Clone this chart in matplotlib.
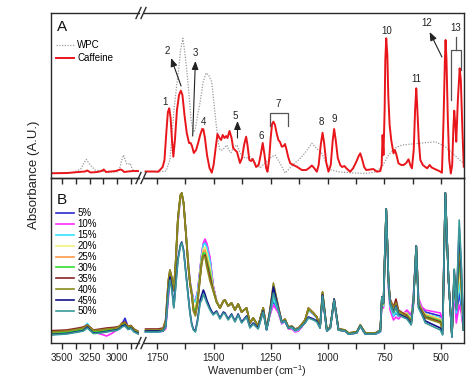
import matplotlib
matplotlib.use('Agg')
import matplotlib.pyplot as plt
from matplotlib.lines import Line2D

plt.rcParams['font.family'] = ['Liberation Sans', 'DejaVu Sans']
plt.rcParams['mathtext.default'] = 'regular'

# ---------------- data (absorbance in arbitrary units) ----------------
# Panel A: caffeine
caf_wn_l = [3600, 3450, 3350, 3290, 3270, 3240, 3180, 3140, 3120, 3100, 3010, 2970, 2955, 2935, 2900, 2850, 2785]
caf_v_l = [4.7, 5, 6, 6.5, 7.5, 5.5, 6, 7, 8.5, 6, 7, 8.5, 8, 6, 6.5, 7, 7]
caf_wn_r = [1800, 1759, 1745, 1737, 1725, 1717, 1708, 1702, 1696, 1690,
            1684, 1678, 1671, 1662, 1653, 1645, 1638, 1629, 1619, 1609,
            1602, 1596, 1588, 1578, 1569, 1560, 1551, 1546, 1539, 1530,
            1519, 1509, 1501, 1492, 1484, 1475, 1468, 1461, 1453, 1446,
            1440, 1431, 1422, 1415, 1407, 1398, 1385, 1376, 1367, 1358,
            1352, 1344, 1336, 1329, 1321, 1314, 1303, 1294, 1285, 1277,
            1270, 1264, 1257, 1250, 1244, 1238, 1231, 1224, 1216, 1209,
            1201, 1193, 1187, 1180, 1173, 1164, 1151, 1135, 1113, 1094,
            1081, 1069, 1059, 1047, 1039, 1030, 1022, 1015, 1006, 996,
            986, 977, 971, 964, 955, 944, 936, 926, 914, 900,
            887, 874, 863, 856, 847, 839, 830, 812, 799, 783,
            768, 762, 758, 754, 749, 746, 742, 737, 733, 727,
            720, 710, 704, 698, 688, 676, 666, 654, 644, 636,
            629, 621, 615, 610, 606, 599, 592, 581, 570, 562,
            551, 542, 526, 509, 497, 490, 484, 481, 477, 471,
            465, 458, 452, 447, 443, 438, 434, 427, 419, 414,
            407, 401]
caf_v_r = [6.5, 6.5, 6.3, 8, 11, 18, 48, 66, 69.7, 60,
           38, 21.3, 38, 68, 83, 87.3, 83, 63, 45, 35,
           35, 32, 25, 28, 35, 43, 49, 48.7, 40, 23,
           10, 5.3, 13, 30, 44, 40, 38, 43, 40, 42,
           40, 47, 40, 30, 28, 26, 15, 20, 33, 41.3,
           33, 18, 17, 19, 15, 11, 13, 23, 35, 23,
           10, 6.3, 18, 40, 54, 56.3, 53, 45, 38, 36,
           31.3, 32, 34, 28, 21, 14.7, 13, 11.3, 8, 8,
           10, 12.5, 10, 6.3, 13, 33, 45.3, 35, 16, 6.3,
           13, 38, 49, 38, 20, 13, 11, 12, 9, 6.3,
           10, 16, 22, 24.7, 18, 11, 8, 8.5, 9, 6.3,
           7, 13, 43, 23, 68, 118, 139.7, 123, 83, 53,
           38, 24.7, 28, 24, 14.7, 13, 13, 15, 18.7, 13,
           9.7, 28, 68, 89.7, 73, 38, 18, 13, 11, 9.7,
           13, 10.5, 8.7, 7, 5.3, 58, 118, 138, 118, 58,
           18, 4.5, 13, 48, 67.3, 53, 36.3, 78, 109.7, 98,
           48, 11.3]

# Panel A: WPC
wpc_wn_l = [3600, 3400, 3330, 3300, 3280, 3250, 3200, 3100, 3000, 2975, 2960, 2940, 2925, 2910, 2895, 2880, 2865, 2850, 2785]
wpc_v_l = [5, 5.5, 9, 15, 18.7, 14, 8, 6, 6, 10, 17, 23, 18, 14, 14, 14.7, 10, 7, 6]
wpc_wn_r = [1800, 1745, 1710, 1693, 1684, 1675, 1664, 1655, 1646, 1636,
            1629, 1619, 1609, 1600, 1590, 1582, 1571, 1560, 1547, 1534,
            1523, 1509, 1501, 1495, 1486, 1480, 1473, 1461, 1451, 1443,
            1435, 1425, 1415, 1398, 1385, 1371, 1358, 1340, 1318, 1297,
            1275, 1253, 1231, 1209, 1187, 1165, 1143, 1128, 1107, 1090,
            1069, 1050, 1025, 1006, 984, 944, 878, 835, 790, 761,
            732, 702, 673, 585, 526, 482, 438, 402]
wpc_v_r = [6.5, 6, 7, 18, 43, 68, 91, 108, 128, 139.7,
           128, 108, 83, 58, 46, 48, 63, 76, 96, 105,
           103, 96, 78, 65, 46, 35, 28, 28, 31, 33,
           28, 25.3, 30, 33, 25, 21, 20, 21, 15, 10,
           15, 20, 23, 15, 5, 10, 15, 18, 23, 28,
           34.7, 30, 24.7, 15, 8, 6, 5, 4.5, 6, 11,
           23, 30, 33, 35, 36.3, 31.3, 22, 14.7]

# Panel B: mixtures
wn_b_left = [3600, 3457, 3350, 3306, 3270, 3240, 3215, 3150, 3094, 3040, 3003, 2975, 2955, 2927, 2900, 2873, 2845, 2806, 2785]
wn_b_right = [1800, 1745, 1723, 1712, 1700, 1693, 1684, 1676, 1668, 1658,
              1647, 1641, 1633, 1624, 1612, 1605, 1597, 1590, 1581, 1571,
              1560, 1553, 1546, 1539, 1531, 1517, 1503, 1488, 1473, 1458,
              1451, 1437, 1422, 1407, 1393, 1378, 1356, 1341, 1327, 1305,
              1283, 1268, 1253, 1238, 1216, 1201, 1187, 1172, 1157, 1143,
              1128, 1113, 1099, 1084, 1062, 1047, 1033, 1022, 1003, 988,
              971, 952, 923, 908, 872, 856, 834, 790, 768, 761,
              754, 748, 742, 737, 732, 725, 710, 699, 688, 651,
              632, 623, 610, 600, 585, 570, 504, 494, 482, 468,
              453, 443, 434, 421, 412, 402]

p05_l = [9, 10.5, 12.5, 14, 17, 13.5, 11, 11.5, 12.5, 13.5, 14, 15.5, 19, 24.7, 16, 17, 12.5, 10, 9.5]
p05_r = [11, 11, 12, 15, 48, 68, 63, 52, 76, 121,
         146, 149, 140, 114, 79, 62, 51, 43, 42, 51,
         74, 89, 99, 101, 98, 84, 57, 42, 35, 42,
         43, 37, 40, 33, 39, 31, 35, 20, 25, 17,
         35, 14, 29, 42, 31, 20, 22, 15, 15, 12,
         13, 17, 22, 33, 29, 25, 16, 48, 12, 15,
         42, 13, 12, 9, 10, 17, 9, 9, 11, 42,
         37, 86, 133, 99, 58, 38, 27, 30, 27, 31,
         26, 43, 97, 43, 35, 31, 27, 19, 150, 63,
         8, 60, 26, 50, 36, 13]
p10_l = [9, 10.5, 12.5, 14, 17, 13.5, 11, 9, 7, 10, 13, 15, 18, 19, 15, 16, 12, 9.5, 9]
p10_r = [11, 11, 12, 14, 45, 66, 62, 52, 75, 120,
         145, 148, 140, 115, 80, 62, 52, 44, 42, 52,
         75, 90, 100, 104, 100, 86, 58, 42, 35, 42,
         43, 37, 40, 33, 39, 31, 35, 20, 25, 17,
         35, 14, 28, 38, 30, 19, 22, 14, 14, 11,
         12, 16, 22, 33, 29, 26, 16, 46, 12, 15,
         41, 13, 12, 9, 10, 17, 9, 9, 11, 40,
         35, 85, 132, 98, 55, 33, 23, 26, 24, 33,
         28, 45, 97, 45, 36, 33, 30, 22, 150, 63,
         10, 55, 20, 38, 30, 13]
p15_l = [10, 11, 13, 14.5, 19.7, 15, 11.5, 12, 13, 14, 14.5, 16, 19, 20, 16, 17, 13, 10, 10]
p15_r = [11, 11, 12, 16, 50, 68, 63, 52, 77, 122,
         146, 149, 140, 114, 78, 61, 51, 43, 41, 51,
         73, 88, 98, 100, 96, 82, 56, 42, 35, 42,
         43, 37, 40, 33, 39, 31, 35, 20, 25, 17,
         35, 14, 30, 44, 32, 20, 22, 15, 15, 12,
         13, 17, 22, 33, 29, 25, 16, 48, 12, 15,
         42, 13, 12, 9, 10, 17, 9, 9, 11, 43,
         37, 87, 133, 99, 58, 37, 27, 31, 27, 30,
         25, 42, 97, 42, 33, 29, 25, 17, 150, 63,
         8, 64, 30, 60, 42, 13]
p20_l = [10, 11, 13, 14.3, 17, 14, 11.3, 12, 13, 14, 14.7, 16, 19, 19.7, 16, 17, 13, 10.3, 10]
p20_r = [12, 12, 13, 18, 55, 70, 64, 53, 78, 123,
         147, 149, 140, 114, 78, 61, 50, 38, 35, 46,
         70, 85, 94, 96, 90, 76, 55, 42, 35, 42,
         43, 37, 40, 33, 39, 31, 35, 20, 25, 17,
         35, 14, 31, 52, 34, 21, 23, 15, 16, 13,
         14, 18, 22, 34, 30, 26, 16, 49, 12, 15,
         43, 13, 12, 9, 10, 17, 9, 9, 12, 44,
         38, 88, 133, 100, 60, 40, 30, 34, 29, 30,
         24, 41, 97, 41, 33, 29, 24, 16, 150, 63,
         8, 66, 34, 75, 50, 13]
p25_l = [10.5, 11.5, 13.5, 15, 17.5, 14.5, 12, 12.5, 13.5, 14.5, 15, 16.5, 19.5, 20, 16.5, 17, 13.5, 10.5, 10]
p25_r = [12, 12, 13, 19, 57, 71, 64, 53, 79, 124,
         147, 150, 140, 114, 77, 60, 49, 36, 33, 44,
         69, 84, 92, 93, 86, 72, 54, 42, 35, 42,
         43, 37, 40, 33, 39, 31, 35, 20, 25, 17,
         35, 14, 32, 55, 35, 21, 23, 15, 16, 13,
         14, 18, 23, 34, 30, 26, 16, 50, 13, 16,
         43, 14, 13, 10, 11, 18, 10, 10, 12, 45,
         39, 89, 134, 100, 61, 41, 32, 37, 30, 29,
         23, 40, 97, 40, 33, 28, 23, 15, 150, 63,
         8, 68, 35, 80, 55, 13]
p30_l = [9.5, 10.5, 12.5, 14, 17, 13.5, 11, 11.5, 12.5, 13.5, 14, 15.5, 18.5, 19, 15.5, 16.5, 12.5, 10, 9.5]
p30_r = [12, 12, 13, 20, 58, 71, 64, 53, 79, 124,
         147, 150, 140, 114, 77, 60, 49, 35, 32, 43,
         68, 83, 90, 90, 83, 70, 53, 41, 35, 42,
         43, 37, 40, 33, 39, 31, 35, 20, 25, 17,
         35, 14, 31, 50, 34, 21, 23, 15, 16, 13,
         14, 18, 23, 34, 30, 26, 16, 50, 13, 16,
         43, 14, 13, 10, 11, 18, 10, 10, 12, 45,
         39, 89, 134, 100, 61, 40, 31, 35, 29, 28,
         22, 40, 97, 40, 32, 27, 22, 14, 150, 63,
         8, 68, 36, 85, 58, 13]
p35_l = [12.3, 13, 15, 16, 18, 15.5, 13, 14, 15, 15.5, 16, 17, 20, 21, 17, 17.5, 14, 11.5, 11]
p35_r = [14, 14, 15, 23, 62, 73, 65, 53, 80, 125,
         148, 150, 140, 113, 76, 60, 48, 33, 28, 41,
         66, 80, 87, 88, 80, 66, 53, 41, 35, 42,
         43, 37, 40, 33, 39, 31, 35, 20, 25, 17,
         35, 14, 33, 58, 36, 21, 24, 16, 17, 14,
         15, 19, 23, 35, 30, 26, 16, 51, 13, 16,
         44, 14, 13, 10, 11, 18, 10, 10, 13, 46,
         40, 90, 134, 100, 63, 44, 36, 44, 33, 27,
         21, 39, 97, 39, 32, 26, 21, 13, 150, 63,
         8, 70, 37, 95, 62, 13]
p40_l = [11, 12, 14, 15, 17.5, 15, 12.5, 13, 14, 14.5, 15, 16.5, 19.5, 20, 16.5, 17, 13.5, 11, 10.5]
p40_r = [13, 13, 14, 22, 63, 73, 65, 53, 80, 125,
         148, 150, 140, 113, 76, 60, 48, 32, 27, 40,
         66, 80, 87, 86, 76, 62, 52, 41, 35, 42,
         43, 37, 40, 33, 39, 31, 35, 20, 25, 17,
         35, 14, 33, 60, 36, 21, 24, 16, 17, 14,
         15, 19, 23, 35, 30, 26, 16, 51, 13, 16,
         44, 14, 13, 10, 11, 18, 10, 10, 13, 46,
         40, 90, 134, 100, 63, 43, 35, 40, 32, 26,
         20, 39, 97, 39, 31, 25, 20, 12, 150, 63,
         8, 70, 38, 100, 65, 13]
p45_l = [8.5, 9.5, 11.5, 12.5, 16, 12.5, 10, 10.5, 11.5, 12.5, 13, 14.5, 17, 18, 14, 15, 11.5, 9.5, 9]
p45_r = [12, 12, 12, 17, 52, 66, 55, 36, 57, 84,
         98, 101, 93, 73, 46, 31, 19, 14, 12, 24,
         43, 48, 53, 49, 43, 35, 29, 32, 25, 31,
         30, 24, 29, 22, 29, 21, 27, 16, 20, 15,
         32, 13, 31, 56, 34, 21, 22, 15, 16, 13,
         14, 17, 20, 26, 24, 22, 15, 48, 12, 15,
         44, 13, 12, 9, 10, 17, 9, 9, 12, 46,
         40, 90, 134, 100, 63, 40, 31, 37, 29, 25,
         19, 38, 97, 36, 29, 22, 15, 9, 150, 63,
         6, 73, 34, 115, 75, 13]
p50_l = [8, 9, 11, 12, 15, 12, 9.5, 10, 11, 12, 12.5, 14, 16, 17, 13.5, 14.5, 11, 9, 9]
p50_r = [11, 11, 12, 16, 50, 63, 52, 35, 55, 82,
         97, 100, 92, 72, 45, 30, 18, 13, 11, 22,
         40, 43, 49, 45, 40, 33, 28, 31, 24, 30,
         29, 23, 28, 21, 28, 20, 26, 15, 19, 14,
         31, 13, 30, 50, 33, 21, 22, 15, 16, 13,
         14, 17, 20, 25, 23, 21, 15, 47, 12, 15,
         43, 13, 12, 9, 10, 17, 9, 9, 12, 46,
         40, 90, 134, 100, 63, 40, 30, 36, 28, 24,
         18, 38, 97, 35, 28, 20, 13, 8, 150, 63,
         6, 74, 33, 123, 80, 13]

series_labels = ['5%', '10%', '15%', '20%', '25%', '30%', '35%', '40%', '45%', '50%']
series_colors = ['#2a2ad6', '#ff2bff', '#33e3ff', '#f2f27a', '#ff9a4d',
                 '#33dd33', '#8b2525', '#8a8a1e', '#10108a', '#3a9898']
series_left = [p05_l, p10_l, p15_l, p20_l, p25_l, p30_l, p35_l, p40_l, p45_l, p50_l]
series_right = [p05_r, p10_r, p15_r, p20_r, p25_r, p30_r, p35_r, p40_r, p45_r, p50_r]

# band labels: (text, wavenumber, absorbance)
band_labels = [('1', 1715, 76), ('2', 1705, 127), ('3', 1580, 125), ('4', 1546, 56),
               ('5', 1405, 62), ('6', 1292, 42), ('7', 1216, 74), ('8', 1028, 56),
               ('9', 971, 59), ('10', 742, 147), ('11', 610, 99), ('12', 563, 155),
               ('13', 437, 150)]
# arrows: (tail wn, tail abs, head wn, head abs)
band_arrows = [(1644, 92, 1688, 120), (1593, 42, 1581, 117),
               (1396, 40, 1396, 57), (497, 121, 551, 146)]

# ---------------- layout ----------------
W, H = 474, 384
fig = plt.figure(figsize=(W / 100, H / 100), dpi=100)


def fr(x0, y0, x1, y1):
    return [x0 / W, 1 - y1 / H, (x1 - x0) / W, (y1 - y0) / H]


LX0, LX1 = 51, 139
RX0, RX1 = 144, 464
AY0, AY1 = 13, 178
BY0, BY1 = 178, 343

axAL = fig.add_axes(fr(LX0, AY0, LX1, AY1))
axAR = fig.add_axes(fr(RX0, AY0, RX1, AY1))
axBL = fig.add_axes(fr(LX0, BY0, LX1, BY1))
axBR = fig.add_axes(fr(RX0, BY0, RX1, BY1))

SPC = '#2a2a2a'
for ax, side in [(axAL, 'L'), (axAR, 'R'), (axBL, 'L'), (axBR, 'R')]:
    ax.set_ylim(0, 165)
    ax.set_yticks([])
    if side == 'L':
        ax.set_xlim(3600, 2800)
        ax.set_xticks([3500, 3250, 3000])
        ax.set_xticks([3375, 3125, 2875], minor=True)
        ax.spines['right'].set_visible(False)
    else:
        ax.set_xlim(1807, 400)
        ax.set_xticks([1750, 1500, 1250, 1000, 750, 500])
        ax.set_xticks([1625, 1375, 1125, 875, 625], minor=True)
        ax.spines['left'].set_visible(False)
    for s in ax.spines.values():
        s.set_color(SPC)
        s.set_linewidth(1.0)
    ax.tick_params(axis='x', which='both', direction='out', length=4.5, width=1.0,
                   color=SPC, labelsize=7.2, pad=2.5, labelcolor='#222222')
    ax.patch.set_alpha(0)

for ax in (axAL, axAR):
    ax.tick_params(axis='x', labelbottom=False)

# ---------------- panel A ----------------
for ax, (wl, vl, cl, cv) in [(axAL, (wpc_wn_l, wpc_v_l, caf_wn_l, caf_v_l)),
                             (axAR, (wpc_wn_r, wpc_v_r, caf_wn_r, caf_v_r))]:
    ax.plot(wl, vl, color='#9a9a9a', lw=0.9, ls=(0, (1, 1.2)))
    ax.plot(cl, cv, color='#e8161b', lw=1.4)

for t, x, y in band_labels:
    axAR.text(x, y, t, fontsize=7, ha='center', va='center', color='#222222')
for x0, y0, x1, y1 in band_arrows:
    axAR.annotate('', xy=(x1, y1), xytext=(x0, y0),
                  arrowprops=dict(arrowstyle='-|>,head_length=0.5,head_width=0.2',
                                  color='#222222', lw=0.8, shrinkA=0, shrinkB=0))
# brackets for bands 7 and 13
axAR.plot([1253, 1253, 1172, 1172], [52, 65, 65, 52], color='#555555', lw=0.9)
axAR.plot([456, 456, 412, 412], [78, 128, 128, 108], color='#555555', lw=0.9)
axAR.plot([434, 434], [128, 141], color='#555555', lw=0.9)

hA = [Line2D([], [], color='#9a9a9a', lw=0.9, ls=(0, (1, 1.2))),
      Line2D([], [], color='#e8161b', lw=1.4)]
axAL.legend(hA, ['WPC', 'Caffeine'], loc='upper left',
            bbox_to_anchor=(56 / W, 1 - 40.5 / H), bbox_transform=fig.transFigure,
            frameon=False, fontsize=7, handlelength=1.9, handletextpad=0.3,
            labelspacing=0.25, borderpad=0, borderaxespad=0)

# ---------------- panel B ----------------
for lab, col, yl, yr in zip(series_labels, series_colors, series_left, series_right):
    axBL.plot(wn_b_left, yl, color=col, lw=1.2, label=lab)
    axBR.plot(wn_b_right, yr, color=col, lw=1.2, label=lab)

axBL.legend(loc='upper left', bbox_to_anchor=(56 / W, 1 - 208.5 / H),
            bbox_transform=fig.transFigure, frameon=False, fontsize=7,
            handlelength=1.9, handletextpad=0.3, labelspacing=0.09,
            borderpad=0, borderaxespad=0)

# panel letters
fig.text(62 / W, 1 - 27 / H, 'A', fontsize=11, ha='center', va='center', color='#111111')
fig.text(62 / W, 1 - 200 / H, 'B', fontsize=11, ha='center', va='center', color='#111111')

# axis titles
fig.text(34 / W, 1 - 175 / H, 'Absorbance (A.U.)', rotation=90, fontsize=9.5,
         ha='center', va='center', color='#222222')
fig.text(257 / W, 1 - 371 / H, 'Wavenumber (cm$^{-1}$)', fontsize=7.8,
         ha='center', va='center', color='#222222')

# axis break marks
for yc in (AY0, AY1, BY1):
    for dx in (0, 5):
        fig.add_artist(Line2D([(136 + dx) / W, (141 + dx) / W],
                              [1 - (yc + 5.5) / H, 1 - (yc - 5.5) / H],
                              transform=fig.transFigure, color=SPC, lw=1.0))

fig.savefig('out.png', dpi=100)
